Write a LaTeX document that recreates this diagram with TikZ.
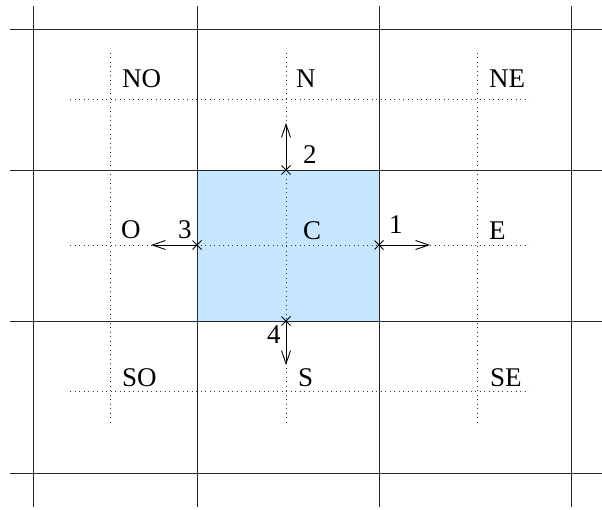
\documentclass[tikz,border=0pt]{standalone}
\usepackage{fontspec}
\setmainfont{Liberation Serif}
\usetikzlibrary{arrows.meta,calc}
\definecolor{cellblue}{RGB}{198,230,255}
\begin{document}
\begin{tikzpicture}[x=1pt,y=-1pt,
  gridline/.style={line width=0.8pt,black!85},
  dotline/.style={line width=0.8pt,black!80,dash pattern=on 0.8pt off 3.7pt},
  lbl/.style={anchor=base west,inner sep=0pt,font=\fontsize{27}{32}\selectfont},
  flux/.style={line width=0.9pt,-{Straight Barb[length=13pt,width=9pt,line width=0.9pt]}},
  crossmark/.style={line width=0.8pt}]
\useasboundingbox (0,0) rectangle (602,510);
% central cell
\fill[cellblue] (197,170) rectangle (379,321);
% dotted lines
\foreach \y in {99,245,391} \draw[dotline] (70,\y) -- (529,\y);
\foreach \x in {110,286,477} \draw[dotline] (\x,53) -- (\x,423);
% solid grid
\foreach \x in {33,197,379,571} \draw[gridline] (\x,6) -- (\x,507);
\foreach \y in {29,170,321,473} \draw[gridline] (10,\y) -- (602,\y);
% interface points
\coordinate (f1) at (379,245);
\coordinate (f2) at (286,170);
\coordinate (f3) at (197,245);
\coordinate (f4) at (286,321);
\coordinate (t1) at (430,245);
\coordinate (t2) at (286,123);
\coordinate (t3) at (151,245);
\coordinate (t4) at (286,365);
\foreach \p in {f1,f2,f3,f4}
  \draw[crossmark] ($(\p)+(-4.5,-4.5)$) -- ($(\p)+(4.5,4.5)$) ($(\p)+(-4.5,4.5)$) -- ($(\p)+(4.5,-4.5)$);
\draw[flux] (f1) -- (t1);
\draw[flux] (f2) -- (t2);
\draw[flux] (f3) -- (t3);
\draw[flux] (f4) -- (t4);
% labels
\node[lbl] (no) at (122,88) {NO};
\node[lbl] (n) at (296,88) {N};
\node[lbl] (ne) at (489,88) {NE};
\node[lbl] (o) at (121,239) {O};
\node[lbl] (c) at (303,240) {C};
\node[lbl] (e) at (489,240) {E};
\node[lbl] (so) at (122,386) {SO};
\node[lbl] (s) at (298,386) {S};
\node[lbl] (se) at (490,386) {SE};
\node[lbl] (l1) at (389,234) {1};
\node[lbl] (l2) at (303,164) {2};
\node[lbl] (l3) at (178,239) {3};
\node[lbl] (l4) at (267,344) {4};
\end{tikzpicture}
\end{document}
